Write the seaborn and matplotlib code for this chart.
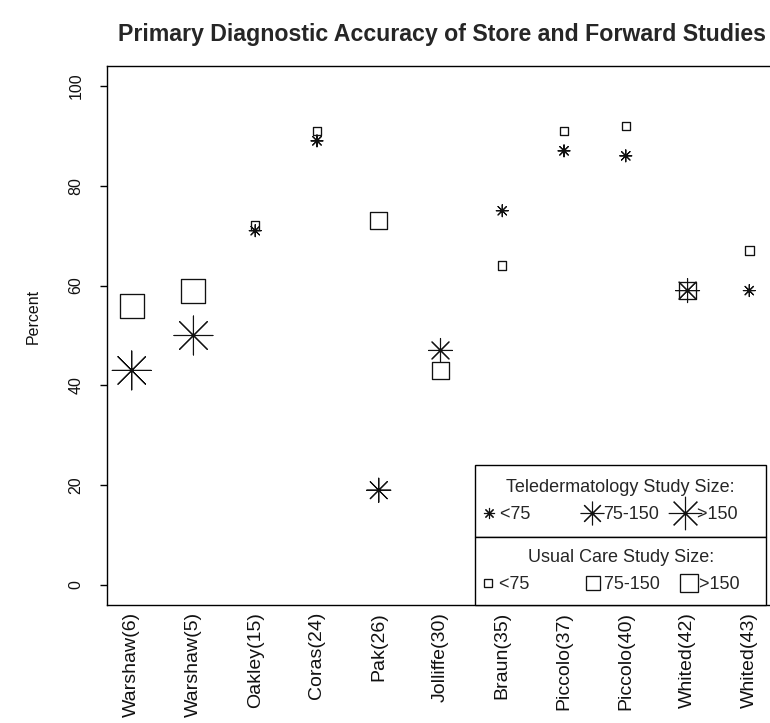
import matplotlib
matplotlib.use("Agg")
import matplotlib.pyplot as plt
from matplotlib.lines import Line2D
import pandas as pd
import seaborn as sns

# Study labels (first author and reference number)
studies = ["Warshaw(6)", "Warshaw(5)", "Oakley(15)", "Coras(24)", "Pak(26)",
           "Jolliffe(30)", "Braun(35)", "Piccolo(37)", "Piccolo(40)",
           "Whited(42)", "Whited(43)"]

# Teledermatology diagnostic accuracy (%) and study-size class
tele_pct = [43, 50, 71, 89, 19, 47, 75, 87, 86, 59, 59]
tele_size = [">150", ">150", "<75", "<75", "75-150", "75-150",
             "<75", "<75", "<75", "75-150", "<75"]

# Usual-care diagnostic accuracy (%) and study-size class
care_pct = [56, 59, 72, 91, 73, 43, 64, 91, 92, 59, 67]
care_size = [">150", ">150", "<75", "<75", "75-150", "75-150",
             "<75", "<75", "<75", "75-150", "<75"]

size_levels = ["<75", "75-150", ">150"]
y_ticks = [0, 20, 40, 60, 80, 100]

sns.set_theme(style="white")
plt.rcParams["font.family"] = ["Liberation Sans", "DejaVu Sans"]

W, H = 770, 723
fig = plt.figure(figsize=(W / 100, H / 100), dpi=100)
ax = fig.add_axes([107 / W, 1 - 605 / H, 667 / W, 539 / H])

pos = list(range(1, len(studies) + 1))
tele = pd.DataFrame({"pos": pos, "pct": tele_pct, "size": tele_size})
care = pd.DataFrame({"pos": pos, "pct": care_pct, "size": care_size})

asterisk = (8, 2, 0)
ast_pts = {"<75": 8.6, "75-150": 17.3, ">150": 28.0}
sq_pts = {"<75": 6.1, "75-150": 12.2, ">150": 17.3}

sns.scatterplot(data=tele, x="pos", y="pct", size="size",
                sizes={k: v ** 2 for k, v in ast_pts.items()},
                size_order=size_levels, marker=asterisk, color="#111111",
                linewidth=0.8, legend=False, ax=ax, zorder=3)
sns.scatterplot(data=care, x="pos", y="pct", size="size",
                sizes={k: v ** 2 for k, v in sq_pts.items()},
                size_order=size_levels, marker="s", facecolor="none",
                edgecolor="#111111", linewidth=0.95, legend=False, ax=ax,
                zorder=3)

ax.set_xlim(0.6, 11.4)
ax.set_ylim(-4, 104)
ax.set_xticks(pos)
ax.set_xticklabels(studies, rotation=90, fontsize=14, color="#111111")
ax.set_yticks(y_ticks)
ax.set_yticklabels([str(v) for v in y_ticks], rotation=90, va="center",
                   fontsize=11.5, color="#111111")
ax.tick_params(axis="x", length=0, pad=5)
ax.tick_params(axis="y", length=5, width=1, color="black", pad=12, left=True)
ax.set_xlabel("")
ax.set_ylabel("Percent", fontsize=11.5, color="#111111")
ax.yaxis.set_label_coords(-0.1, 0.536)
for sp in ax.spines.values():
    sp.set_color("black")
    sp.set_linewidth(1.0)

fig.text(442.5 / W, 1 - 35 / H,
         "Primary Diagnostic Accuracy of Store and Forward Studies",
         ha="center", va="center", fontsize=16.65, fontweight="bold")

# Legends: marker size key for each group
leg_ast = {"<75": 8.0, "75-150": 17.0, ">150": 24.0}
leg_sq = {"<75": 6.0, "75-150": 10.0, ">150": 13.0}

tele_handles = [Line2D([], [], linestyle="none", marker=asterisk,
                       markersize=leg_ast[k], color="#111111", mew=0.8)
                for k in size_levels]
care_handles = [Line2D([], [], linestyle="none", marker="s",
                       markersize=leg_sq[k], mfc="none", mec="#111111",
                       mew=0.95)
                for k in size_levels]

common = dict(ncol=3, fontsize=13, title_fontsize=13, frameon=True,
              fancybox=False, framealpha=1, edgecolor="black",
              borderaxespad=0, loc="lower left")
x_l = (475 - 107) / 667
leg1 = ax.legend(tele_handles,
                 ["<75" + " " * 7, "75-150", ">150" + " " * 3],
                 title="Teledermatology Study Size:",
                 bbox_to_anchor=(x_l, (605 - 537) / 539),
                 borderpad=0.76, labelspacing=0.57, handlelength=0.0,
                 handletextpad=0.62, columnspacing=1.47, **common)
leg1.get_frame().set_linewidth(1.0)
ax.add_artist(leg1)
leg2 = ax.legend(care_handles,
                 ["<75" + " " * 8, "75-150 ", ">150" + " " * 3],
                 title="Usual Care Study Size:",
                 bbox_to_anchor=(x_l, 0),
                 borderpad=0.64, labelspacing=0.59, handlelength=0.17,
                 handletextpad=0.5, columnspacing=1.25, **common)
leg2.get_frame().set_linewidth(1.0)

fig.savefig("out.png", dpi=100, facecolor="white")
